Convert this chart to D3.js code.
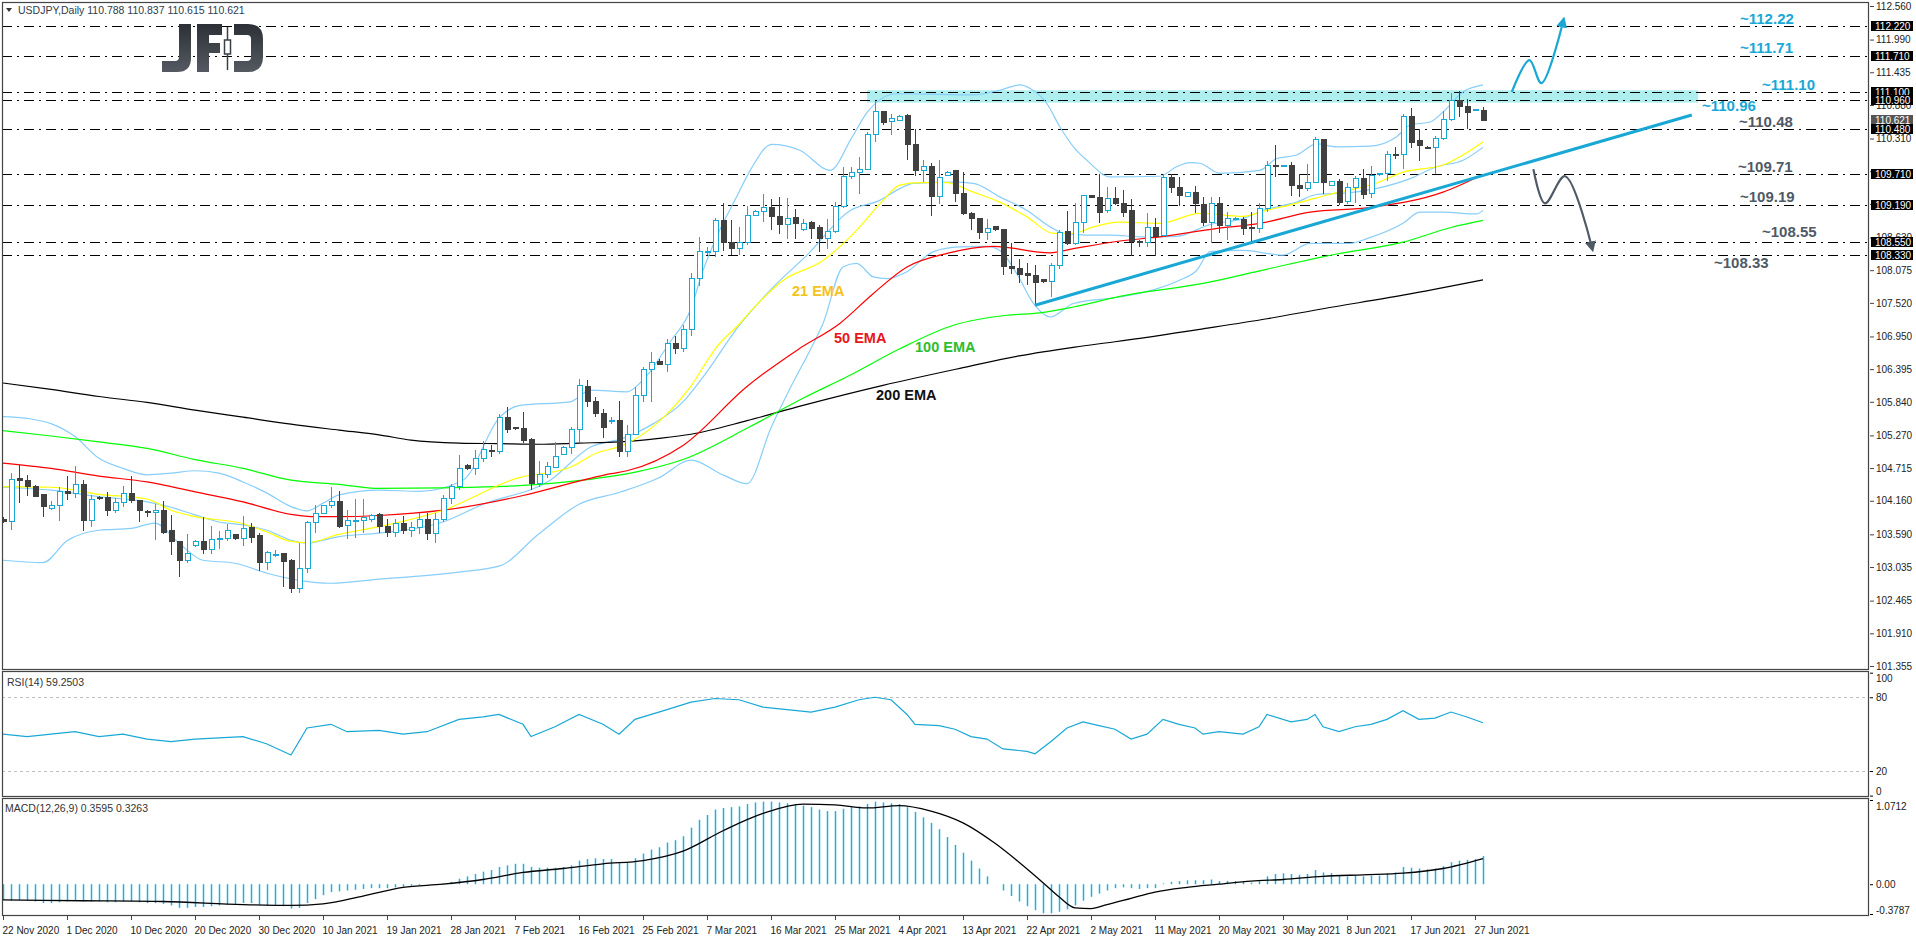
<!DOCTYPE html>
<html>
<head>
<meta charset="utf-8">
<script src="https://cdnjs.cloudflare.com/ajax/libs/d3/7.8.5/d3.min.js"></script>
<style>
  body { margin: 0; background: #fff; }
  svg { display: block; }
  text { font-family: "Liberation Sans", Arial, sans-serif; }
</style>
</head>
<body>
<svg id="chart" width="1916" height="936"></svg>
<script>
// ---- candles, one per bar (bar 0 = 22 Nov 2020, bar 185 = 28 Jun 2021)
const opens = [103.85,103.80,104.53,104.51,104.41,104.26,104.03,104.08,104.31,104.29,104.44,103.83,104.22,104.21,104.00,104.13,104.29,104.17,103.98,103.96,
104.00,103.65,103.47,103.14,103.40,103.47,103.33,103.50,103.52,103.58,103.52,103.70,103.57,103.11,103.24,103.26,103.14,102.67,103.01,103.79,
103.95,104.08,104.14,103.74,103.82,103.83,103.84,103.92,103.72,103.62,103.78,103.65,103.70,103.85,103.60,103.85,104.20,104.40,104.76,104.71,
104.88,105.02,104.99,105.57,105.40,105.39,105.20,104.45,104.60,104.73,104.94,105.06,105.37,106.10,105.85,105.65,105.52,105.53,105.00,105.28,
105.95,106.39,106.53,106.47,106.83,106.74,107.07,107.93,108.39,108.39,108.91,108.55,108.44,108.55,109.00,109.07,109.14,108.99,108.85,108.97,
108.76,108.88,108.80,108.61,108.73,109.16,109.66,109.74,109.79,110.38,110.77,110.60,110.62,110.70,110.21,109.77,109.83,109.32,109.69,109.76,
109.38,109.04,108.95,108.71,108.82,108.76,108.14,108.10,108.02,107.99,107.92,107.88,108.15,108.74,108.53,108.89,109.34,109.31,109.08,109.30,
109.21,109.08,108.57,108.54,108.80,108.66,109.65,109.48,109.33,109.39,109.19,108.88,109.21,108.83,108.94,108.94,108.80,108.79,109.12,109.85,
109.84,109.85,109.52,109.46,109.57,110.30,109.51,109.58,109.24,109.48,109.63,109.38,109.70,109.71,110.04,110.04,110.68,110.27,110.16,110.16,
110.31,110.63,110.96,110.86,110.79,110.788];
const highs = [103.89,104.63,104.77,104.60,104.43,104.27,104.16,104.40,104.58,104.75,104.52,104.26,104.24,104.31,104.21,104.41,104.58,104.17,104.01,104.10,
104.16,103.92,103.48,103.60,103.49,103.88,103.73,103.65,103.77,103.60,103.90,103.79,103.61,103.31,103.32,103.27,103.18,103.44,103.82,104.09,
104.09,104.39,104.32,104.00,104.19,104.19,103.93,103.95,103.85,103.85,103.90,103.80,103.95,103.95,103.95,104.25,104.45,104.93,104.79,105.03,
105.17,105.10,105.63,105.76,105.42,105.66,105.22,104.83,104.82,105.16,105.09,105.41,106.22,106.21,105.92,105.72,105.59,105.85,105.44,106.10,
106.43,106.69,106.56,106.90,106.95,107.15,108.02,108.64,108.47,108.96,109.22,108.92,108.81,109.16,109.09,109.36,109.28,109.31,109.30,109.12,
108.95,108.91,108.85,108.95,109.23,109.83,109.83,109.99,110.42,110.95,110.78,110.73,110.71,110.73,110.48,109.94,109.90,109.95,109.76,109.77,
109.74,109.06,108.95,108.95,108.82,108.76,108.54,108.27,108.20,108.16,107.92,108.20,108.76,109.08,109.21,109.35,109.35,109.70,109.49,109.49,
109.43,109.28,108.58,109.05,108.96,109.70,109.70,109.65,109.39,109.50,109.32,109.32,109.31,109.06,108.98,108.98,109.06,109.22,109.93,110.20,
109.86,109.92,109.70,109.87,110.34,110.31,109.58,109.63,109.55,109.67,109.79,109.84,109.72,110.09,110.16,110.72,110.82,110.48,110.18,110.36,
110.78,111.09,111.11,110.98,110.81,110.837];
const lows = [103.78,103.67,104.13,104.24,104.22,103.89,104.01,103.82,104.18,104.21,103.65,103.72,104.18,103.91,103.95,104.05,104.13,103.80,103.89,103.49,
103.60,103.24,102.87,103.11,103.37,103.26,103.26,103.34,103.48,103.50,103.39,103.45,102.96,102.98,103.21,102.70,102.60,102.59,102.94,103.61,
103.95,104.03,103.69,103.51,103.52,103.61,103.80,103.62,103.55,103.55,103.60,103.55,103.60,103.50,103.45,103.80,104.10,104.35,104.68,104.59,
104.82,104.90,104.96,105.31,105.36,105.14,104.35,104.40,104.54,104.71,104.93,104.96,105.16,105.75,105.59,105.23,105.47,104.90,104.90,105.27,
105.84,105.84,106.46,106.35,106.65,106.69,106.95,107.81,108.33,108.30,108.40,108.33,108.33,108.51,108.99,108.89,108.76,108.69,108.61,108.60,
108.74,108.61,108.39,108.44,108.71,109.13,109.63,109.36,109.77,110.25,110.54,110.37,110.60,109.95,109.67,109.57,108.99,109.20,109.67,109.23,
109.01,108.75,108.60,108.58,108.74,107.99,108.01,107.85,107.82,107.48,107.86,107.62,108.09,108.50,108.50,108.70,109.30,108.88,109.05,109.18,
108.98,108.32,108.46,108.47,108.32,108.64,109.39,109.17,109.32,109.05,108.82,108.54,108.71,108.59,108.92,108.67,108.54,108.71,109.06,109.66,
109.82,109.33,109.32,109.42,109.55,109.36,109.51,109.19,109.20,109.21,109.29,109.30,109.67,109.59,109.97,109.79,110.15,109.93,110.14,109.70,
110.28,110.60,110.68,110.48,110.78,110.615];
const closes = [103.80,104.52,104.51,104.40,104.24,104.06,104.08,104.31,104.28,104.44,103.82,104.18,104.20,103.99,104.13,104.28,104.16,103.99,103.96,104.00,
103.62,103.47,103.14,103.27,103.47,103.33,103.50,103.52,103.66,103.52,103.69,103.53,103.11,103.28,103.25,103.13,102.67,103.01,103.79,103.95,
104.08,104.14,103.73,103.83,103.83,103.88,103.91,103.72,103.62,103.78,103.65,103.70,103.85,103.60,103.85,104.20,104.40,104.71,104.71,104.88,
105.03,105.01,105.57,105.37,105.39,105.19,104.45,104.60,104.75,104.92,105.06,105.37,106.12,105.84,105.64,105.40,105.53,104.99,105.29,105.95,
106.39,106.51,106.47,106.83,106.74,107.07,107.93,108.39,108.40,108.91,108.55,108.44,108.55,109.01,109.07,109.14,108.98,108.85,108.95,108.87,
108.86,108.79,108.61,108.73,109.16,109.66,109.74,109.79,110.38,110.77,110.59,110.65,110.69,110.21,109.77,109.83,109.32,109.65,109.74,109.38,
109.03,108.95,108.71,108.78,108.77,108.13,108.10,108.01,107.98,107.86,107.88,108.15,108.72,108.52,108.89,109.34,109.31,109.06,109.29,109.21,
109.06,108.57,108.54,108.80,108.64,109.65,109.48,109.34,109.39,109.20,108.88,109.21,108.83,108.95,108.95,108.79,108.79,109.12,109.85,109.84,
109.85,109.51,109.46,109.57,110.30,109.57,109.58,109.23,109.48,109.63,109.36,109.68,109.71,110.04,110.03,110.68,110.25,110.20,110.15,110.31,
110.63,110.95,110.85,110.76,110.80,110.621];

// ---- indicator lines, read at sample bars: [bar, value]
const ema21 = [[0,104.40],[6,104.39],[12,104.27],[18,104.19],[21,104.00],[24,103.89],[30,103.77],[33,103.63],[36,103.47],[38,103.45],[42,103.59],[47,103.72],[55,104.0],[64.2,104.54],[70.9,104.73],[74.2,104.97],[77.5,105.10],[81.7,105.47],[85.9,106.09],[89.2,106.77],[92.1,107.17],[93.4,107.37],[97.5,107.90],[102.5,108.24],[106.7,108.75],[110,109.26],[112.1,109.52],[114.6,109.56],[117.9,109.56],[121.3,109.40],[124.6,109.23],[128,108.98],[131.3,108.70],[133.8,108.70],[136.3,108.81],[139.6,108.89],[144.6,108.87],[149.6,109.04],[155,108.99],[157.9,109.09],[160.8,109.18],[165.8,109.36],[171.6,109.55],[175,109.74],[180,109.86],[185,110.25]];
const ema50 = [[0,104.80],[6,104.71],[12,104.58],[18,104.48],[24,104.31],[30,104.14],[36,103.93],[39,103.89],[42,103.89],[47,103.91],[55,104.0],[65,104.25],[72.5,104.51],[76,104.62],[78,104.67],[85,105.10],[93,106.10],[99.4,106.73],[104.6,107.17],[108.8,107.68],[113,108.13],[118,108.36],[123.8,108.48],[130.9,108.37],[133.8,108.44],[139.6,108.57],[144.6,108.64],[151.6,108.78],[157.1,108.87],[163.4,109.06],[170.9,109.14],[180,109.40],[185,109.70]];
const ema100 = [[0,105.35],[6,105.26],[12,105.16],[18,105.05],[24,104.86],[30,104.71],[36,104.51],[42,104.44],[47,104.37],[55,104.38],[65,104.42],[72.5,104.51],[79.2,104.65],[85,104.86],[93.4,105.42],[100,105.9],[106,106.3],[112.1,106.74],[118.8,107.14],[125.5,107.31],[129.6,107.35],[133.8,107.45],[139.6,107.63],[150,107.85],[157.9,108.09],[166.7,108.35],[175,108.55],[181,108.80],[185,108.92]];
const ema200 = [[0,106.16],[6,106.05],[12,105.93],[18,105.83],[24,105.70],[30,105.58],[36,105.46],[42,105.36],[47,105.28],[51,105.19],[57,105.14],[62,105.13],[67,105.12],[72,105.14],[77,105.16],[82,105.22],[86,105.29],[93,105.52],[100,105.78],[110,106.12],[120,106.42],[127,106.62],[134,106.77],[139,106.86],[150,107.08],[158,107.25],[165,107.42],[175,107.65],[185,107.91]];
const bbUpper = [[0,105.59],[3,105.56],[6,105.47],[9,105.25],[12,104.88],[15,104.71],[18,104.60],[21,104.63],[24,104.67],[27,104.63],[30,104.48],[33,104.29],[36,104.06],[38,103.99],[40,104.12],[42,104.26],[47,104.34],[52,104.32],[57.5,104.51],[62.1,105.58],[64.6,105.78],[70.9,105.84],[73.4,106.04],[78,106.01],[80,106.21],[83.4,106.86],[85.9,107.39],[87.5,108.07],[89.2,108.64],[91.7,109.32],[93.4,109.77],[96.1,110.21],[99.6,110.11],[103.4,109.77],[106,110.3],[108,110.75],[111.7,111.07],[117.1,111.06],[121.3,111.05],[124.6,111.13],[127.1,111.22],[128.4,111.16],[130.5,110.90],[132.1,110.51],[133.8,110.17],[135.5,109.94],[138.4,109.66],[144.6,109.67],[146.7,109.83],[148.4,109.90],[149.6,109.89],[152.1,109.72],[157.1,109.77],[159.2,109.97],[161.7,110.03],[164.2,110.22],[166.7,110.17],[170.9,110.18],[174.2,110.34],[175.9,110.54],[178.4,110.59],[180,110.76],[182.5,111.10],[185,111.22]];
const bbMiddle = [[0,104.39],[6,104.34],[12,104.23],[18,104.14],[21,104.05],[24,103.92],[27,103.80],[30,103.75],[33,103.66],[36,103.49],[38,103.44],[40,103.49],[42,103.55],[47,103.61],[55,103.8],[60,104.1],[68.4,104.51],[73.4,105.07],[77.5,105.22],[81.3,105.47],[85,105.84],[87.5,106.26],[92.1,107.15],[96.3,107.79],[100.5,108.33],[105.9,109.09],[109.6,109.26],[112.1,109.46],[113.8,109.55],[118.8,109.57],[121.3,109.55],[124.6,109.32],[128,109.09],[130.9,108.81],[132.6,108.70],[135.5,108.67],[138.4,108.67],[142.6,108.64],[146.7,108.65],[150.9,108.85],[155,108.95],[157.5,109.09],[161.7,109.23],[164.2,109.36],[168.4,109.39],[171.6,109.46],[175.9,109.63],[179.2,109.83],[182.5,109.94],[185,110.16]];
const bbLower = [[0,103.15],[5,103.11],[8,103.48],[12,103.66],[16,103.69],[19,103.78],[22,103.44],[25,103.15],[29,103.10],[33,102.93],[37,102.81],[41,102.76],[47,102.83],[52,102.88],[57,102.95],[62,103.05],[67,103.6],[72,104.1],[77,104.3],[82,104.55],[86,104.85],[90,104.6],[93,104.45],[96,105.4],[98.5,106.1],[100.9,106.72],[102.5,107.17],[105,108.13],[106.7,108.19],[108.8,107.96],[110.5,107.93],[113,108.05],[116.3,108.39],[119.6,108.47],[123,108.48],[124.6,108.41],[126.7,108.02],[128.8,107.51],[130.9,107.28],[133.8,107.51],[139.6,107.62],[144,107.75],[147,107.9],[149.2,108.07],[150.9,108.39],[155,108.41],[160,108.33],[163.4,108.53],[168.4,108.53],[170.5,108.61],[175,108.87],[177.1,109.06],[180,109.06],[184.2,109.03],[185,109.09]];

const rsi = [[0,50],[3,48],[6,50],[9,52],[12,48],[15,50],[18,46],[21,44],[24,46],[27,47],[30,48],[33,42],[36,33],[38,55],[41,58],[43,52],[47,53],[50,50],[53,52],[57,62],[60,64],[62,66],[65,58],[66,48],[69,56],[72,66],[75,58],[77,50],[79,62],[83,70],[86,76],[89,79],[92,78],[95,72],[98,70],[101,68],[104,72],[107,78],[109,80],[111,78],[113,66],[114,58],[117,57],[119,54],[121,48],[123,46],[125,38],[128,36],[129,34],[131,44],[133,55],[135,60],[137,57],[139,54],[141,46],[143,50],[145,62],[147,58],[149,55],[150,50],[152,52],[155,50],[157,56],[158,66],[161,60],[163,62],[164,66],[165,56],[167,52],[169,56],[171,58],[173,62],[175,69],[177,62],[179,63],[181,68],[183,64],[185,59.25]];

const macdHist = [-0.20,-0.21,-0.20,-0.21,-0.22,-0.24,-0.24,-0.23,-0.22,-0.20,-0.22,-0.22,-0.22,-0.23,-0.23,-0.22,-0.22,-0.23,-0.24,-0.24,
-0.25,-0.27,-0.30,-0.30,-0.29,-0.29,-0.28,-0.27,-0.26,-0.25,-0.24,-0.24,-0.26,-0.27,-0.27,-0.28,-0.31,-0.30,-0.24,-0.19,
-0.14,-0.10,-0.09,-0.08,-0.07,-0.06,-0.05,-0.05,-0.05,-0.04,-0.03,-0.02,-0.01,0.00,0.00,0.01,0.03,0.07,0.10,0.13,
0.16,0.18,0.22,0.24,0.26,0.26,0.22,0.21,0.21,0.21,0.22,0.24,0.30,0.32,0.33,0.32,0.32,0.28,0.28,0.33,
0.39,0.44,0.47,0.53,0.56,0.61,0.72,0.82,0.88,0.95,0.97,0.98,0.99,1.02,1.04,1.05,1.05,1.04,1.03,1.02,
1.00,0.98,0.95,0.93,0.93,0.96,0.98,0.99,1.02,1.05,1.04,1.03,1.02,0.98,0.92,0.85,0.78,0.70,0.60,0.50,
0.40,0.30,0.20,0.10,0.00,-0.08,-0.15,-0.22,-0.28,-0.33,-0.37,-0.37,-0.35,-0.32,-0.27,-0.21,-0.16,-0.12,-0.08,-0.05,
-0.04,-0.05,-0.06,-0.05,-0.05,0.01,0.03,0.04,0.05,0.05,0.05,0.06,0.04,0.04,0.04,0.03,0.02,0.04,0.10,0.13,
0.14,0.13,0.12,0.13,0.18,0.15,0.14,0.11,0.10,0.11,0.10,0.11,0.11,0.14,0.15,0.22,0.21,0.20,0.19,0.20,
0.23,0.28,0.30,0.31,0.32,0.36];
const macdSignal = [[0,-0.20],[10,-0.21],[20,-0.22],[30,-0.26],[36,-0.27],[40,-0.25],[45,-0.15],[50,-0.04],[55,0.0],[60,0.06],[65,0.15],[70,0.2],[75,0.26],[80,0.3],[85,0.42],[90,0.68],[95,0.9],[100,1.02],[104,1.01],[108,0.97],[112,1.0],[116,0.93],[120,0.78],[124,0.52],[127,0.28],[130,0.02],[132,-0.16],[134,-0.30],[136,-0.31],[138,-0.26],[141,-0.18],[144,-0.10],[148,-0.04],[152,0.0],[156,0.04],[160,0.06],[165,0.1],[170,0.12],[175,0.14],[180,0.2],[185,0.3263]];

// ---- axes labels
const priceTicks = [112.560,111.990,111.435,110.880,110.310,109.755,109.200,108.630,108.075,107.520,106.950,106.395,105.840,105.270,104.715,104.160,103.590,103.035,102.465,101.910,101.355];
const hiddenTicks = [109.755, 109.200];   // fully covered by the level tags
const dateBars = [0,8,16,24,32,40,48,56,64,72,80,88,96,104,112,120,128,136,144,152,160,168,176,184];
const dateLabels = ["22 Nov 2020","1 Dec 2020","10 Dec 2020","20 Dec 2020","30 Dec 2020","10 Jan 2021","19 Jan 2021","28 Jan 2021","7 Feb 2021","16 Feb 2021","25 Feb 2021","7 Mar 2021","16 Mar 2021","25 Mar 2021","4 Apr 2021","13 Apr 2021","22 Apr 2021","2 May 2021","11 May 2021","20 May 2021","30 May 2021","8 Jun 2021","17 Jun 2021","27 Jun 2021"];

// ---- drawn levels / scenario
const levels = [112.22,111.71,111.10,110.96,110.48,109.71,109.19,108.55,108.33];
const lastPrice = 110.621;
const zone = {fromBar: 108, toBar: 211.9, top: 111.13, bottom: 110.92};
const trend = [[129,107.48],[211.1,110.71]];
const upPath = [[188.6,111.10],[190.8,111.64],[192.3,111.25],[195,112.29]];
const downPath = [[191.3,109.79],[192.75,109.21],[195.25,109.67],[198.6,108.47]];

const CYAN = "#19a8d6", BEAR = "#404040", GREY_TXT = "#4f5a66";

const svg = d3.select("#chart");
const defs = svg.append("defs");
defs.append("clipPath").attr("id", "mainClip").append("rect").attr("x", 2).attr("y", 2).attr("width", 1868).attr("height", 667);
defs.append("clipPath").attr("id", "rsiClip").append("rect").attr("x", 2).attr("y", 671).attr("width", 1868).attr("height", 125);
defs.append("clipPath").attr("id", "macdClip").append("rect").attr("x", 2).attr("y", 798).attr("width", 1868).attr("height", 117);
[["arrCyan", CYAN], ["arrGrey", "#4f5a66"]].forEach(([id, c]) => {
  defs.append("marker").attr("id", id).attr("viewBox", "0 0 10 10").attr("refX", 5).attr("refY", 5)
    .attr("markerWidth", 5).attr("markerHeight", 5).attr("orient", "auto-start-reverse")
    .append("path").attr("d", "M0,0 L10,5 L0,10 z").attr("fill", c);
});
const grad = defs.append("linearGradient").attr("id", "logoGrad").attr("x1", 0).attr("x2", 0).attr("y1", 0).attr("y2", 1);
grad.append("stop").attr("offset", "0%").attr("stop-color", "#2c3036");
grad.append("stop").attr("offset", "100%").attr("stop-color", "#555a62");

const x = d3.scaleLinear().domain([0, 185]).range([3, 1483]);
const y = d3.scaleLinear().domain([101.355, 112.56]).range([666, 6]);
const yRsi = d3.scaleLinear().domain([0, 100]).range([795.6, 672.7]);
const yMacd = d3.scaleLinear().domain([-0.3787, 1.0712]).range([914, 800]);

// ---------- main panel
const main = svg.append("g").attr("clip-path", "url(#mainClip)");

// support/resistance zone
main.append("rect")
  .attr("x", x(zone.fromBar)).attr("width", x(zone.toBar) - x(zone.fromBar))
  .attr("y", y(zone.top)).attr("height", y(zone.bottom) - y(zone.top))
  .attr("fill", "#afeeee");

// level lines
main.selectAll(".lvl").data(levels).enter().append("line")
  .attr("x1", 2).attr("x2", 1870)
  .attr("y1", d => Math.round(y(d)) + 0.5).attr("y2", d => Math.round(y(d)) + 0.5)
  .attr("stroke", "#000").attr("stroke-width", 1).attr("stroke-dasharray", "10,5,2,5");

// JFD logo (drawn as shapes, it is a picture in the original)
const logo = svg.append("g").attr("fill", "url(#logoGrad)");
logo.append("path").attr("d", "M179,24 H191 V58 Q191,72 177,72 H162 V61 H175 Q179,61 179,57 Z");
logo.append("path").attr("d", "M197,24 H222 V35 H209 V43 H220 V53 H209 V72 H197 Z");
logo.append("path").attr("d", "M234,24 H248 Q263,24 263,39 V57 Q263,72 248,72 H234 V61 H247 Q251,61 251,57 V39 Q251,35 247,35 H234 Z");
logo.append("line").attr("x1", 227.5).attr("x2", 227.5).attr("y1", 27).attr("y2", 70).attr("stroke", "#3a3f47").attr("stroke-width", 1.5);
logo.append("rect").attr("x", 224.5).attr("y", 40).attr("width", 6).attr("height", 14).attr("fill", "#fff").attr("stroke", "#3a3f47").attr("stroke-width", 1.5);

// indicator lines
const pline = d3.line().x(d => x(d[0])).y(d => y(d[1])).curve(d3.curveMonotoneX);
[[bbUpper, "#87cefa"], [bbMiddle, "#87cefa"], [bbLower, "#87cefa"],
 [ema200, "#000000"], [ema100, "#00ff00"], [ema50, "#ff0000"], [ema21, "#ffff00"]]
  .forEach(([d, c]) => main.append("path").attr("d", pline(d)).attr("fill", "none").attr("stroke", c).attr("stroke-width", 1.2));

// candles
const bars = d3.range(opens.length);
const cg = main.append("g").attr("shape-rendering", "crispEdges");
cg.selectAll(".wick").data(bars).enter().append("line")
  .attr("x1", i => x(i) + 0.5).attr("x2", i => x(i) + 0.5)
  .attr("y1", i => y(highs[i])).attr("y2", i => y(lows[i]))
  .attr("stroke", i => closes[i] >= opens[i] ? CYAN : BEAR).attr("stroke-width", 1);
cg.selectAll(".body").data(bars).enter().append("rect")
  .attr("x", i => x(i) - 2)
  .attr("y", i => y(Math.max(opens[i], closes[i])))
  .attr("width", 5)
  .attr("height", i => Math.max(1, Math.abs(y(opens[i]) - y(closes[i]))))
  .attr("fill", i => closes[i] >= opens[i] ? "#fff" : BEAR)
  .attr("stroke", i => closes[i] >= opens[i] ? CYAN : BEAR).attr("stroke-width", 1);

// trend line
main.append("line")
  .attr("x1", x(trend[0][0])).attr("y1", y(trend[0][1]))
  .attr("x2", x(trend[1][0])).attr("y2", y(trend[1][1]))
  .attr("stroke", CYAN).attr("stroke-width", 3);

// scenario paths
const spline = d3.line().x(d => x(d[0])).y(d => y(d[1])).curve(d3.curveCatmullRom.alpha(0.5));
main.append("path").attr("d", spline(upPath)).attr("fill", "none").attr("stroke", CYAN)
  .attr("stroke-width", 2.2).attr("marker-end", "url(#arrCyan)");
main.append("path").attr("d", spline(downPath)).attr("fill", "none").attr("stroke", "#4f5a66")
  .attr("stroke-width", 2.2).attr("marker-end", "url(#arrGrey)");

// EMA labels
[["21 EMA", 792, 296, "#f5c21b"], ["50 EMA", 834, 343, "#e8161b"], ["100 EMA", 915, 352, "#2ebd2e"], ["200 EMA", 876, 400, "#111"]]
  .forEach(([t, lx, ly, c]) => svg.append("text").attr("x", lx).attr("y", ly).attr("font-size", 14.5)
    .attr("font-weight", "bold").attr("fill", c).text(t));

// level labels
const lblPos = [[1740, -2], [1740, -3], [1762, -2], [1702, 11], [1739, -2], [1738, -2], [1740, -3], [1762, -5], [1714, 13]];
levels.forEach((v, k) => {
  svg.append("text").attr("x", lblPos[k][0]).attr("y", y(v) + lblPos[k][1])
    .attr("font-size", 15).attr("font-weight", "bold")
    .attr("fill", k < 4 ? CYAN : GREY_TXT).text("~" + v.toFixed(2));
});

// title
svg.append("path").attr("d", "M6,8 L12,8 L9,12 z").attr("fill", "#333");
svg.append("text").attr("x", 18).attr("y", 14).attr("font-size", 10.5).attr("fill", "#2f3b4a")
  .text("USDJPY,Daily  110.788 110.837 110.615 110.621");

// ---------- RSI panel
const rsiG = svg.append("g").attr("clip-path", "url(#rsiClip)");
[80, 20].forEach(v => rsiG.append("line").attr("x1", 2).attr("x2", 1870)
  .attr("y1", Math.round(yRsi(v)) + 0.5).attr("y2", Math.round(yRsi(v)) + 0.5)
  .attr("stroke", "#c0c0c0").attr("stroke-dasharray", "3,3"));
rsiG.append("path").attr("d", d3.line().x(d => x(d[0])).y(d => yRsi(d[1]))(rsi))
  .attr("fill", "none").attr("stroke", CYAN).attr("stroke-width", 1.2);
svg.append("text").attr("x", 7).attr("y", 686).attr("font-size", 10.5).attr("fill", "#333").text("RSI(14) 59.2503");

// ---------- MACD panel
const macdG = svg.append("g").attr("clip-path", "url(#macdClip)");
macdG.selectAll(".hb").data(bars).enter().append("line")
  .attr("x1", i => x(i) + 0.5).attr("x2", i => x(i) + 0.5)
  .attr("y1", yMacd(0)).attr("y2", i => yMacd(macdHist[i]))
  .attr("stroke", "#1fb0dc").attr("stroke-width", 1.5);
macdG.append("path").attr("d", d3.line().x(d => x(d[0])).y(d => yMacd(d[1])).curve(d3.curveMonotoneX)(macdSignal))
  .attr("fill", "none").attr("stroke", "#000").attr("stroke-width", 1.3);
svg.append("text").attr("x", 5).attr("y", 812).attr("font-size", 10.5).attr("fill", "#333").text("MACD(12,26,9) 0.3595 0.3263");

// ---------- frames
[[2, 2, 669], [2, 671, 796], [2, 798, 915]].forEach(([fx, t, b]) =>
  svg.append("rect").attr("x", fx + 0.5).attr("y", t + 0.5).attr("width", 1868 - fx).attr("height", b - t)
    .attr("fill", "none").attr("stroke", "#444").attr("stroke-width", 1.2));

// price axis
const pAxis = svg.append("g").attr("transform", "translate(1870,0)")
  .call(d3.axisRight(y).tickValues(priceTicks).tickSize(4).tickPadding(2)
    .tickFormat(d => hiddenTicks.includes(d) ? "" : d3.format(".3f")(d)));
pAxis.select(".domain").remove();
pAxis.selectAll("text").attr("font-size", 10).attr("fill", "#222").attr("font-family", "Liberation Sans, Arial, sans-serif");
pAxis.selectAll("line").attr("stroke", "#444");

// price tags
const tag = (v, bg) => {
  const ty = Math.round(y(v));
  svg.append("rect").attr("x", 1871).attr("y", ty - 5).attr("width", 42).attr("height", 10).attr("fill", bg);
  svg.append("text").attr("x", 1875).attr("y", ty + 4).attr("font-size", 10).attr("fill", "#fff").text(v.toFixed(3));
};
tag(lastPrice, "#555");
levels.forEach(v => tag(v, "#000"));

// RSI axis
const rAxis = svg.append("g").attr("transform", "translate(1870,0)")
  .call(d3.axisRight(yRsi).tickValues([100, 80, 20, 0]).tickSize(3).tickPadding(3));
rAxis.select(".domain").remove();
rAxis.selectAll("text").attr("font-size", 10).attr("fill", "#222")
  .attr("dy", d => d === 100 ? "0.9em" : d === 0 ? "-0.1em" : "0.32em");

// MACD axis
const mAxis = svg.append("g").attr("transform", "translate(1870,0)")
  .call(d3.axisRight(yMacd).tickValues([1.0712, 0, -0.3787]).tickSize(3).tickPadding(3)
    .tickFormat(d => d === 0 ? "0.00" : d.toFixed(4)));
mAxis.select(".domain").remove();
mAxis.selectAll("text").attr("font-size", 10).attr("fill", "#222")
  .attr("dy", d => d > 1 ? "0.9em" : d < 0 ? "-0.1em" : "0.32em");

// date axis
const dAxis = svg.append("g").attr("transform", "translate(0,915)")
  .call(d3.axisBottom(x).tickValues(dateBars).tickSize(5).tickPadding(4).tickFormat((d, k) => dateLabels[k]));
dAxis.select(".domain").remove();
dAxis.selectAll("line").attr("stroke", "#444");
dAxis.selectAll("text").attr("font-size", 10).attr("fill", "#222")
  .attr("text-anchor", "start").attr("dx", "-1").attr("dy", "0.95em");
</script>
</body>
</html>
